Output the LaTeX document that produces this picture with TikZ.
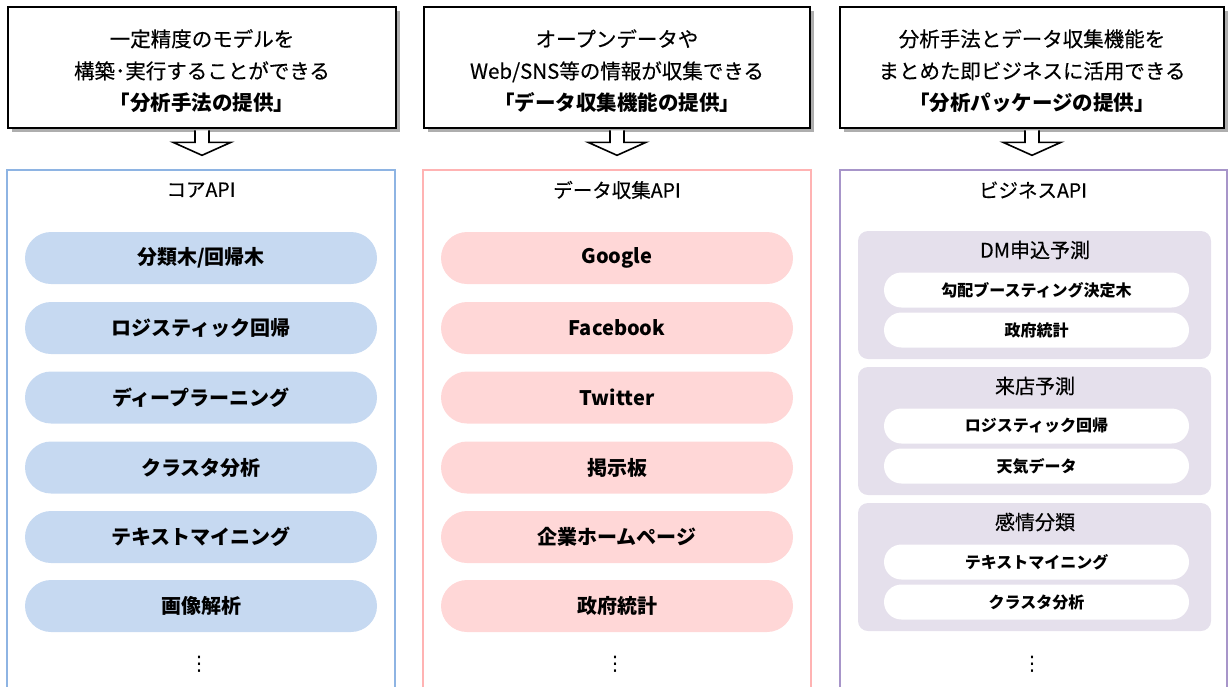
\documentclass[tikz,border=0pt]{standalone}
\usepackage{fontspec}
\setmainfont{Noto Sans CJK JP}
\newfontfamily\med[FakeBold=0.35]{Noto Sans CJK JP}
\newfontfamily\dejavu{DejaVu Sans}
\usetikzlibrary{shadows}
\definecolor{blueFill}{HTML}{C6D9F1}
\definecolor{blueLine}{HTML}{8EB4E3}
\definecolor{pinkFill}{HTML}{FFD7D7}
\definecolor{pinkLine}{HTML}{FFB3B3}
\definecolor{purpFill}{HTML}{E5E0EC}
\definecolor{purpLine}{HTML}{A795C9}
\tikzset{
  topbox/.style={draw=black, line width=2.2pt, fill=white, minimum height=121pt,
    drop shadow={shadow xshift=4pt, shadow yshift=-4pt, opacity=0.45, fill=black!70}},
  toptext/.style={align=center, font=\med\fontsize{20.5}{32}\selectfont},
  bigarrow/.style={draw=black, line width=1.6pt, fill=white, line join=miter},
  colframe/.style={line width=1.5pt},
  coltitle/.style={font=\med\fontsize{19.5}{22}\selectfont},
  pill/.style={rounded corners=26pt, minimum width=352pt, minimum height=52pt,
    font=\fontsize{20}{22}\selectfont\bfseries, inner sep=0pt},
  bluepill/.style={pill, fill=blueFill},
  pinkpill/.style={pill, fill=pinkFill},
  group/.style={fill=purpFill, rounded corners=10pt, minimum width=353pt, minimum height=128pt, inner sep=0pt},
  grouphead/.style={font=\med\fontsize{20}{22}\selectfont},
  innerpill/.style={fill=white, rounded corners=17.5pt, minimum width=305pt, minimum height=35pt,
    font=\fontsize{16}{18}\selectfont\bfseries, inner sep=0pt},
  vdots/.style={font=\dejavu\fontsize{20}{22}\selectfont, inner sep=0pt}
}
\begin{document}
\begin{tikzpicture}[x=1pt,y=-1pt]
\useasboundingbox (0,0) rectangle (1230,686);
% ---- top boxes
\node[topbox, minimum width=388pt] (t1) at (202,67.5) {};
\node[topbox, minimum width=386pt] (t2) at (617,67.5) {};
\node[topbox, minimum width=384pt] (t3) at (1032,67.5) {};
\node[toptext] (t1txt) at (202,71) {一定精度のモデルを\\構築･実行することができる\\{\normalfont\bfseries 「分析手法の提供」}};
\node[toptext] (t2txt) at (617,71) {オープンデータや\\Web/SNS等の情報が収集できる\\{\normalfont\bfseries 「データ収集機能の提供」}};
\node[toptext] (t3txt) at (1032,71) {分析手法とデータ収集機能を\\まとめた即ビジネスに活用できる\\{\normalfont\bfseries 「分析パッケージの提供」}};
% ---- arrows
\foreach \t in {t1,t2,t3}{
  \draw[bigarrow] ([xshift=-7pt,yshift=-1.2pt]\t.south) -- ++(0,12) -- ++(-22,0) -- ++(29,13) -- ++(29,-13) -- ++(-22,0) -- ++(0,-12);
}
% ---- column frames
\draw[colframe, draw=blueLine] (7,700) -- (7,170) -- (395,170) -- (395,700);
\draw[colframe, draw=pinkLine] (423,700) -- (423,170) -- (811,170) -- (811,700);
\draw[colframe, draw=purpLine] (840,700) -- (840,170) -- (1227,170) -- (1227,700);
\node[coltitle] (c1) at (201,190) {コアAPI};
\node[coltitle] (c2) at (617,190) {データ収集API};
\node[coltitle] (c3) at (1033,190) {ビジネスAPI};
% ---- column 1
\node[bluepill] (a1) at (201,258) {分類木/回帰木};
\node[bluepill] (a2) at (201,328) {ロジスティック回帰};
\node[bluepill] (a3) at (201,397.5) {ディープラーニング};
\node[bluepill] (a4) at (201,467.5) {クラスタ分析};
\node[bluepill] (a5) at (201,537) {テキストマイニング};
\node[bluepill] (a6) at (201,606) {画像解析};
\node[vdots] (a7) at (199,664) {⋮};
% ---- column 2
\node[pinkpill] (b1) at (617,258) {Google};
\node[pinkpill] (b2) at (617,328) {Facebook};
\node[pinkpill] (b3) at (617,397.5) {Twitter};
\node[pinkpill] (b4) at (617,467.5) {掲示板};
\node[pinkpill] (b5) at (617,537) {企業ホームページ};
\node[pinkpill] (b6) at (617,606) {政府統計};
\node[vdots] (b7) at (615,664) {⋮};
% ---- column 3
\node[group] (g1) at (1034.5,295) {};
\node[group] (g2) at (1034.5,431) {};
\node[group] (g3) at (1034.5,567) {};
\node[grouphead] (h1) at (1035,250) {DM申込予測};
\node[grouphead] (h2) at (1035,386) {来店予測};
\node[grouphead] (h3) at (1035,522) {感情分類};
\node[innerpill] (p11) at (1036.5,290) {勾配ブースティング決定木};
\node[innerpill] (p12) at (1036.5,330) {政府統計};
\node[innerpill] (p21) at (1036.5,426) {ロジスティック回帰};
\node[innerpill] (p22) at (1036.5,466) {天気データ};
\node[innerpill] (p31) at (1036.5,562) {テキストマイニング};
\node[innerpill] (p32) at (1036.5,602) {クラスタ分析};
\node[vdots] (c7) at (1032,664) {⋮};
\end{tikzpicture}
\end{document}
